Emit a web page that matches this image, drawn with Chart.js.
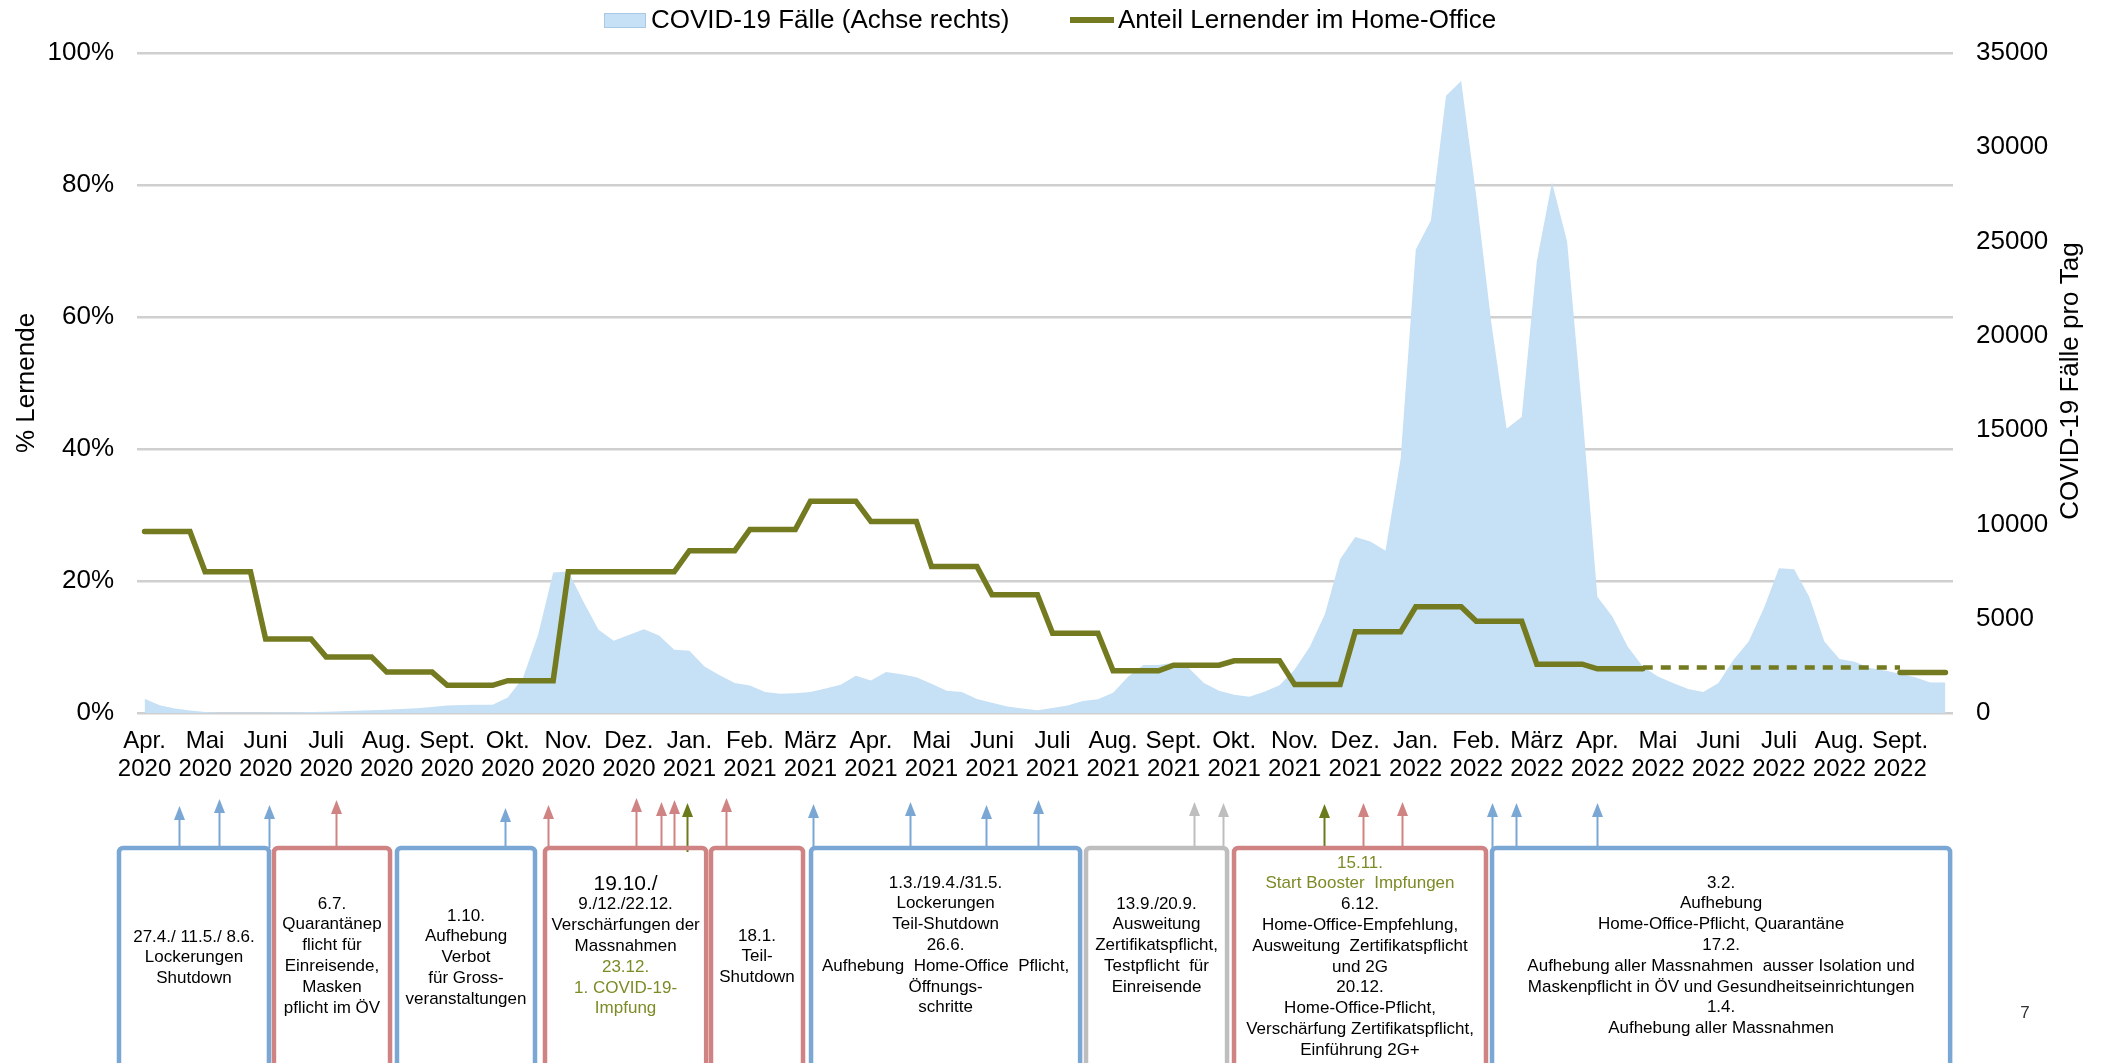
<!DOCTYPE html>
<html lang="de">
<head>
<meta charset="UTF-8">
<title>Home-Office Lernende und COVID-19 Fälle</title>
<script src="https://cdn.jsdelivr.net/npm/chart.js"></script>
<style>
  html, body { margin: 0; padding: 0; background: #fff; }
  #chart { display: block; }
</style>
</head>
<body>
<canvas id="chart" width="2108" height="1063"></canvas>
<script>
// x axis: 30 months, 4 weekly points per month
const monthNames = ['Apr.', 'Mai', 'Juni', 'Juli', 'Aug.', 'Sept.', 'Okt.', 'Nov.', 'Dez.',
  'Jan.', 'Feb.', 'März', 'Apr.', 'Mai', 'Juni', 'Juli', 'Aug.', 'Sept.', 'Okt.', 'Nov.', 'Dez.',
  'Jan.', 'Feb.', 'März', 'Apr.', 'Mai', 'Juni', 'Juli', 'Aug.', 'Sept.'];
const monthYears = ['2020', '2020', '2020', '2020', '2020', '2020', '2020', '2020', '2020',
  '2021', '2021', '2021', '2021', '2021', '2021', '2021', '2021', '2021', '2021', '2021', '2021',
  '2022', '2022', '2022', '2022', '2022', '2022', '2022', '2022', '2022'];

// share of learners in home office (%), one value per month
const homeOffice = [27.5, 21.4, 11.2, 8.5, 6.2, 4.2, 4.9, 21.4, 21.4,
  24.6, 27.8, 32.1, 29.0, 22.2, 17.9, 12.1, 6.4, 7.25, 7.9, 4.3, 12.3,
  16.1, 13.9, 7.4, 6.7, null, null, null, null, 6.15];
// dashed estimate for the months without survey
const homeOfficeEstimate = [null, null, null, null, null, null, null, null, null,
  null, null, null, null, null, null, null, null, null, null, null, null,
  null, null, null, null, 6.9, 6.9, 6.9, 6.9, null];

// COVID-19 cases per day, weekly points (Apr 2020 - Sept 2022)
const covidCases = [
  760, 410, 240, 130, 50, 30, 30, 30, 30, 40, 40, 50,
  70, 95, 120, 150, 175, 210, 255, 320, 400, 430, 435, 440,
  820, 1850, 4130, 7450, 7500, 5900, 4410, 3830, 4130, 4440, 4110, 3350,
  3300, 2470, 2000, 1590, 1460, 1110, 1020, 1050, 1110, 1300, 1500, 1970,
  1730, 2170, 2050, 1900, 1550, 1180, 1110, 740, 550, 350, 240, 140,
  260, 400, 640, 730, 1080, 1930, 2540, 2540, 2670, 2380, 1590, 1180,
  970, 860, 1130, 1470, 2310, 3510, 5250, 8150, 9330, 9100, 8610, 13480,
  24580, 26120, 32730, 33520, 27400, 20640, 15080, 15700, 23950, 28150, 25000, 16000,
  6170, 5110, 3530, 2470, 1940, 1590, 1270, 1110, 1590, 2820, 3790, 5550,
  7670, 7620, 6170, 3790, 2860, 2720, 2380, 2260, 2080, 1890, 1620, 1620
];

const OLIVE = '#737A1F';
const AREA = '#C6E0F5';
const BLUE = '#7BA7D5';
const RED = '#D08383';
const GREY = '#BEBEBE';
const GREEN_ARROW = '#6B7A1A';
const GREEN_TEXT = '#7D8B26';
const FONT = '"Liberation Sans", Arial, Helvetica, sans-serif';

Chart.defaults.font.family = FONT;
Chart.defaults.color = '#000';

function monthlyPoints(levels) {
  const pts = [];
  levels.forEach((v, m) => {
    for (let k = 0; k < 4; k++) pts.push({ x: 4 * m + k, y: v });
  });
  return pts;
}

function estimatePoints(levels) {
  const pts = [];
  levels.forEach((v, m) => {
    if (v === null) return;
    if (levels[m - 1] === null) pts.push({ x: 4 * m - 1, y: v });
    for (let k = 0; k < 4; k++) pts.push({ x: 4 * m + k, y: v });
    if (levels[m + 1] === null) pts.push({ x: 4 * m + 4, y: v });
  });
  return pts;
}

// measures timeline below the chart (x in axis units)
const measures = [
  { from: -1.69, to: 8.22, color: BLUE, y: 937, lines: ['27.4./ 11.5./ 8.6.', 'Lockerungen', 'Shutdown'] },
  { from: 8.55, to: 16.22, color: RED, y: 904, lines: ['6.7.', 'Quarantänep', 'flicht für', 'Einreisende,', 'Masken', 'pflicht im ÖV'] },
  { from: 16.68, to: 25.8, color: BLUE, y: 916, lines: ['1.10.', 'Aufhebung', 'Verbot', 'für Gross-', 'veranstaltungen'] },
  { from: 26.46, to: 37.11, color: RED, y: 884, lines: [{ t: '19.10./', size: 21 }, '9./12./22.12.', 'Verschärfungen der', 'Massnahmen',
      { t: '23.12.', c: GREEN_TEXT }, { t: '1. COVID-19-', c: GREEN_TEXT }, { t: 'Impfung', c: GREEN_TEXT }] },
  { from: 37.43, to: 43.51, color: RED, y: 936, lines: ['18.1.', 'Teil-', 'Shutdown'] },
  { from: 44.04, to: 61.82, color: BLUE, y: 883, lines: ['1.3./19.4./31.5.', 'Lockerungen', 'Teil-Shutdown', '26.6.',
      'Aufhebung  Home-Office  Pflicht,', 'Öffnungs-', 'schritte'] },
  { from: 62.21, to: 71.53, color: GREY, y: 904, lines: ['13.9./20.9.', 'Ausweitung', 'Zertifikatspflicht,', 'Testpflicht  für', 'Einreisende'] },
  { from: 71.99, to: 88.64, color: RED, y: 863, lines: [{ t: '15.11.', c: GREEN_TEXT }, { t: 'Start Booster  Impfungen', c: GREEN_TEXT },
      '6.12.', 'Home-Office-Empfehlung,', 'Ausweitung  Zertifikatspflicht', 'und 2G', '20.12.', 'Home-Office-Pflicht,',
      'Verschärfung Zertifikatspflicht,', 'Einführung 2G+'] },
  { from: 89.04, to: 119.31, color: BLUE, y: 883, lines: ['3.2.', 'Aufhebung', 'Home-Office-Pflicht, Quarantäne', '17.2.',
      'Aufhebung aller Massnahmen  ausser Isolation und', 'Maskenpflicht in ÖV und Gesundheitseinrichtungen', '1.4.', 'Aufhebung aller Massnahmen'] }
];

const arrows = [
  [2.27, 806, BLUE], [4.92, 799, BLUE], [8.22, 805, BLUE], [12.65, 800, RED], [23.82, 808, BLUE],
  [26.66, 805, RED], [32.48, 798, RED], [34.13, 802, RED], [35.0, 800, RED], [35.85, 803, GREEN_ARROW],
  [38.42, 798, RED], [44.17, 804, BLUE], [50.58, 802, BLUE], [55.6, 805, BLUE], [59.04, 800, BLUE],
  [69.35, 802, GREY], [71.26, 803, GREY], [77.94, 804, GREEN_ARROW], [80.52, 803, RED], [83.09, 802, RED],
  [89.04, 803, BLUE], [90.63, 803, BLUE], [95.98, 803, BLUE]
];

const extras = {
  id: 'extras',
  afterDraw(chart) {
    const ctx = chart.ctx;
    const xs = chart.scales.x;
    const boxTop = 848;
    ctx.save();

    // legend
    ctx.fillStyle = AREA;
    ctx.fillRect(604, 13, 42, 15);
    ctx.strokeStyle = '#A9C8E6';
    ctx.lineWidth = 1;
    ctx.strokeRect(604.5, 13.5, 41, 14);
    ctx.fillStyle = '#000';
    ctx.font = '26px ' + FONT;
    ctx.textAlign = 'left';
    ctx.textBaseline = 'middle';
    ctx.fillText('COVID-19 Fälle (Achse rechts)', 651, 21);
    ctx.strokeStyle = OLIVE;
    ctx.lineWidth = 6;
    ctx.beginPath();
    ctx.moveTo(1070, 20);
    ctx.lineTo(1114, 20);
    ctx.stroke();
    ctx.fillText('Anteil Lernender im Home-Office', 1118, 21);

    // right axis title
    ctx.save();
    ctx.translate(2071, 381);
    ctx.rotate(-Math.PI / 2);
    ctx.textAlign = 'center';
    ctx.fillText('COVID-19 Fälle pro Tag', 0, 0);
    ctx.restore();

    // arrows
    arrows.forEach(([v, tip, color]) => {
      const x = Math.round(xs.getPixelForValue(v)) + 0.5;
      ctx.strokeStyle = color;
      ctx.fillStyle = color;
      ctx.lineWidth = 2;
      ctx.beginPath();
      ctx.moveTo(x, boxTop + (color === GREEN_ARROW && v < 40 ? 4 : 0));
      ctx.lineTo(x, tip + 10);
      ctx.stroke();
      ctx.beginPath();
      ctx.moveTo(x, tip);
      ctx.lineTo(x - 5.5, tip + 14);
      ctx.lineTo(x + 5.5, tip + 14);
      ctx.closePath();
      ctx.fill();
    });

    // boxes with text
    measures.forEach(b => {
      const x1 = xs.getPixelForValue(b.from);
      const x2 = xs.getPixelForValue(b.to);
      const r = 4;
      ctx.strokeStyle = b.color;
      ctx.lineWidth = 4.5;
      ctx.beginPath();
      ctx.moveTo(x1, 1066);
      ctx.lineTo(x1, boxTop + r);
      ctx.arcTo(x1, boxTop, x1 + r, boxTop, r);
      ctx.lineTo(x2 - r, boxTop);
      ctx.arcTo(x2, boxTop, x2, boxTop + r, r);
      ctx.lineTo(x2, 1066);
      ctx.stroke();

      const cx = (x1 + x2) / 2;
      ctx.textAlign = 'center';
      ctx.textBaseline = 'middle';
      b.lines.forEach((ln, i) => {
        const item = typeof ln === 'string' ? { t: ln } : ln;
        ctx.fillStyle = item.c || '#000';
        ctx.font = (item.size || 17) + 'px ' + FONT;
        ctx.fillText(item.t, cx, b.y + i * 20.8);
      });
    });

    // page number
    ctx.fillStyle = '#333';
    ctx.font = '17px ' + FONT;
    ctx.textAlign = 'center';
    ctx.fillText('7', 2025, 1013);
    ctx.restore();
  }
};

new Chart(document.getElementById('chart'), {
  type: 'line',
  data: {
    datasets: [
      {
        label: 'Anteil Lernender im Home-Office',
        data: monthlyPoints(homeOffice),
        yAxisID: 'y',
        borderColor: OLIVE,
        borderWidth: 5.5,
        borderCapStyle: 'round',
        pointRadius: 0,
        tension: 0,
        fill: false,
        order: 1
      },
      {
        label: 'Anteil Lernender im Home-Office (Schätzung)',
        data: estimatePoints(homeOfficeEstimate),
        yAxisID: 'y',
        borderColor: OLIVE,
        borderWidth: 4.5,
        borderDash: [10, 8],
        pointRadius: 0,
        tension: 0,
        fill: false,
        order: 2
      },
      {
        label: 'COVID-19 Fälle (Achse rechts)',
        data: covidCases.map((v, i) => ({ x: i, y: v })),
        yAxisID: 'y1',
        backgroundColor: AREA,
        borderWidth: 0,
        pointRadius: 0,
        tension: 0,
        fill: 'origin',
        order: 3
      }
    ]
  },
  options: {
    responsive: false,
    animation: false,
    devicePixelRatio: 1,
    layout: { padding: { top: 53, left: 0, right: 0, bottom: 0 } },
    plugins: {
      legend: { display: false },
      tooltip: { enabled: false }
    },
    scales: {
      x: {
        type: 'linear',
        min: -0.5,
        max: 119.5,
        grid: { display: false, drawTicks: false },
        border: { display: false },
        afterBuildTicks: s => { s.ticks = monthNames.map((_, m) => ({ value: 4 * m })); },
        afterFit: s => { s.height = 350; },
        ticks: {
          autoSkip: false,
          maxRotation: 0,
          minRotation: 0,
          padding: 14,
          font: { size: 24, lineHeight: 28 / 24 },
          callback: v => [monthNames[v / 4], monthYears[v / 4]]
        }
      },
      y: {
        position: 'left',
        min: 0,
        max: 100,
        grid: { color: '#CFCFCF', lineWidth: 2.5, drawTicks: false },
        border: { display: false },
        afterFit: s => { s.width = 137; },
        ticks: { stepSize: 20, padding: 23, font: { size: 26 }, callback: v => v + '%' },
        title: { display: true, text: '% Lernende', font: { size: 26 }, padding: { top: 11, bottom: 0 } }
      },
      y1: {
        position: 'right',
        min: 0,
        max: 35000,
        grid: { display: false, drawTicks: false },
        border: { display: false },
        afterFit: s => { s.width = 155; },
        ticks: { stepSize: 5000, padding: 23, font: { size: 26 }, callback: v => String(v) }
      }
    }
  },
  plugins: [extras]
});
</script>
</body>
</html>
